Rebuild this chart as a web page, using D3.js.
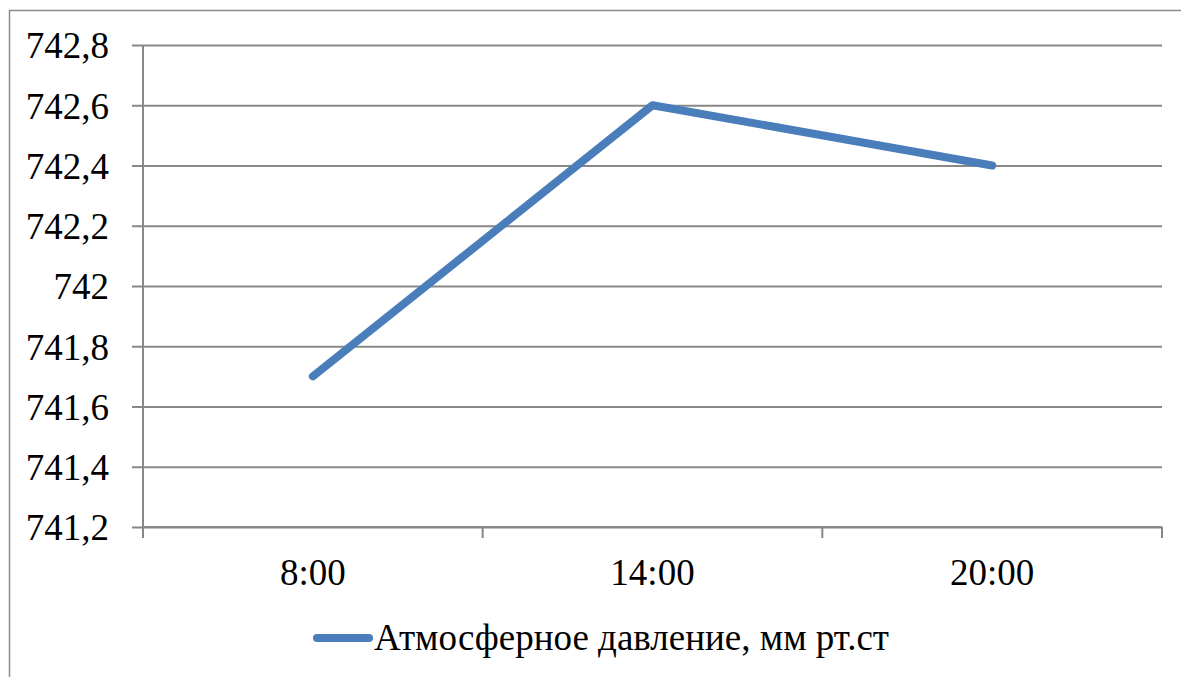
<!DOCTYPE html>
<html>
<head>
<meta charset="utf-8">
<script src="https://cdn.jsdelivr.net/npm/d3@7"></script>
<style>
  html, body { margin: 0; padding: 0; background: #fff; }
  svg { display: block; }
</style>
</head>
<body>
<svg id="chart" width="1181" height="677"></svg>
<script>
const categories = ["8:00", "14:00", "20:00"];
const pressure = [741.7, 742.6, 742.4];
const yTicks = [741.2, 741.4, 741.6, 741.8, 742.0, 742.2, 742.4, 742.6, 742.8];
const seriesName = "Атмосферное давление, мм рт.ст";

const FONT = "'Times New Roman', 'Liberation Serif', Tinos, 'DejaVu Serif', serif";
const FS = 37;
const svg = d3.select("#chart");
const W = 1181, H = 677;
const plot = { left: 143, right: 1162, top: 45, bottom: 527 };

svg.append("rect")
  .attr("x", 9.5).attr("y", 10.5)
  .attr("width", W + 20).attr("height", H + 20)
  .attr("fill", "#fff").attr("stroke", "#8c8c8c").attr("stroke-width", 1.5);

const x = d3.scaleBand().domain(categories).range([plot.left, plot.right]);
const y = d3.scaleLinear().domain([741.2, 742.8]).range([plot.bottom, plot.top]);

const fmt = v => {
  const s = d3.format(".1f")(v);
  return s.endsWith(".0") ? s.slice(0, -2) : s.replace(".", ",");
};

const yAxis = d3.axisLeft(y).tickValues(yTicks).tickFormat(fmt)
  .tickSize(-(plot.right - plot.left)).tickPadding(0);
const gy = svg.append("g").attr("transform", `translate(${plot.left},0)`).call(yAxis)
  .attr("font-family", FONT).attr("font-size", FS);
gy.select(".domain").remove();
gy.selectAll(".tick line").attr("stroke", "#888").attr("stroke-width", 2).attr("x1", -11);
gy.selectAll(".tick text").attr("x", -34).attr("dy", "0.35em").attr("fill", "#000");

svg.append("line")
  .attr("x1", plot.left).attr("x2", plot.left)
  .attr("y1", plot.top).attr("y2", plot.bottom)
  .attr("stroke", "#888").attr("stroke-width", 2);

const gx = svg.append("g").attr("transform", `translate(0,${plot.bottom})`)
  .attr("font-family", FONT).attr("font-size", FS);
gx.append("line").attr("x1", plot.left).attr("x2", plot.right).attr("y1", 0).attr("y2", 0)
  .attr("stroke", "#888").attr("stroke-width", 2);
const boundaries = categories.map(c => x(c)).concat([x(categories[categories.length - 1]) + x.bandwidth()]);
gx.selectAll("line.tk").data(boundaries).enter().append("line").attr("class", "tk")
  .attr("x1", d => d).attr("x2", d => d).attr("y1", 0).attr("y2", 11)
  .attr("stroke", "#888").attr("stroke-width", 2);
gx.selectAll("text.lbl").data(categories).enter().append("text").attr("class", "lbl")
  .attr("x", d => x(d) + x.bandwidth() / 2).attr("y", 58)
  .attr("text-anchor", "middle").attr("fill", "#000").text(d => d);

const line = d3.line().x((d, i) => x(categories[i]) + x.bandwidth() / 2).y(d => y(d));
svg.append("path").datum(pressure)
  .attr("d", line).attr("fill", "none")
  .attr("stroke", "#4a7ebb").attr("stroke-width", 8)
  .attr("stroke-linecap", "round").attr("stroke-linejoin", "round");

const lg = svg.append("g").attr("font-family", FONT).attr("font-size", FS);
lg.append("line").attr("x1", 317).attr("x2", 369).attr("y1", 638).attr("y2", 638)
  .attr("stroke", "#4a7ebb").attr("stroke-width", 8).attr("stroke-linecap", "round");
lg.append("text").attr("x", 374).attr("y", 650).attr("fill", "#000").text(seriesName);
</script>
</body>
</html>
